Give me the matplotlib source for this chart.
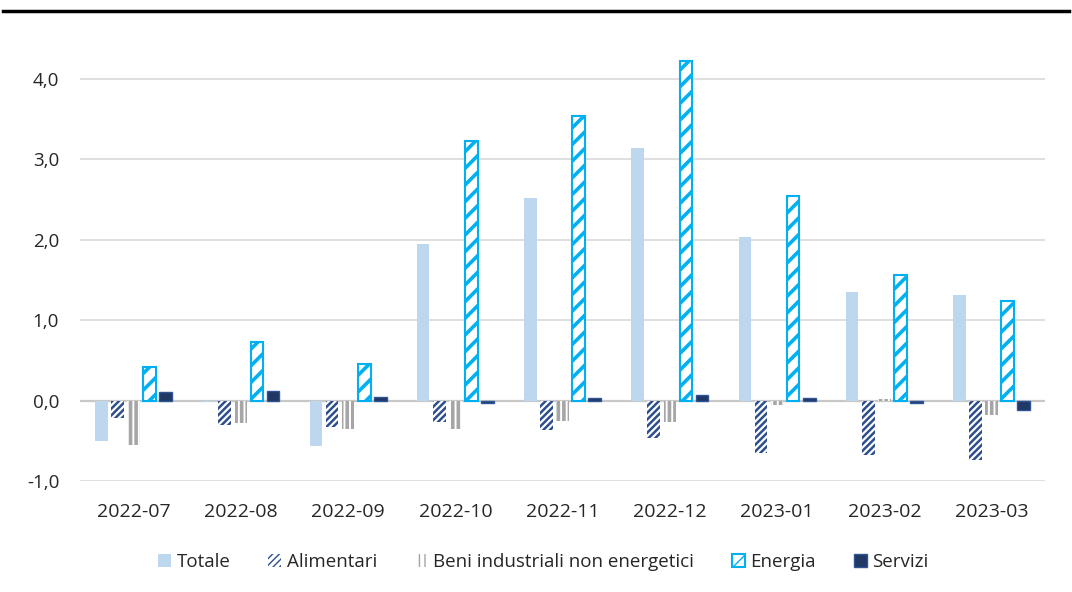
import numpy as np
import matplotlib.pyplot as plt
from matplotlib.lines import Line2D
from matplotlib.ticker import FuncFormatter

plt.rcParams['font.family'] = ['Open Sans', 'DejaVu Sans']

months = ['2022-07', '2022-08', '2022-09', '2022-10', '2022-11',
          '2022-12', '2023-01', '2023-02', '2023-03']
totale = [-0.50, -0.02, -0.57, 1.95, 2.52, 3.14, 2.03, 1.35, 1.31]
alimentari = [-0.22, -0.30, -0.33, -0.27, -0.37, -0.46, -0.65, -0.68, -0.74]
beni_industriali = [-0.55, -0.28, -0.35, -0.35, -0.25, -0.27, -0.05, 0.02, -0.18]
energia = [0.42, 0.73, 0.46, 3.22, 3.54, 4.22, 2.54, 1.56, 1.24]
servizi = [0.10, 0.12, 0.05, -0.03, 0.03, 0.07, 0.03, -0.03, -0.12]

# (label, values, hatch line width, bar style)
series = [
    ('Totale', totale, 1.0, dict(color='#BDD7EE', linewidth=0)),
    ('Alimentari', alimentari, 1.8,
     dict(facecolor='white', edgecolor='#2E4E8E', hatch='/////', linewidth=0)),
    ('Beni industriali non energetici', beni_industriali, 2.6,
     dict(facecolor='white', edgecolor='#A6A6A6', hatch='|||', linewidth=0)),
    ('Energia', energia, 2.6,
     dict(facecolor='white', edgecolor='#00B0F0', hatch='//', linewidth=1.5)),
    ('Servizi', servizi, 1.0,
     dict(facecolor='#1F3864', edgecolor='#2F5597', linewidth=1.0)),
]

fig = plt.figure(figsize=(10.72, 5.92), dpi=100)
ax = fig.add_axes([0.0746, 0.1875, 0.9004, 0.7475])

x = np.arange(len(months))
step = 0.15
width = 0.118
for i, (name, vals, hlw, style) in enumerate(series):
    with plt.rc_context({'hatch.linewidth': hlw}):
        ax.bar(x + (i - 2) * step, vals, width, label=name, zorder=3, **style)

ax.set_xlim(-0.5, len(months) - 0.5)
ax.set_ylim(-1.0, 4.5)
ax.set_yticks(np.arange(-1, 5, 1))
ax.yaxis.set_major_formatter(FuncFormatter(lambda v, _: f'{v:.1f}'.replace('.', ',')))
ax.set_xticks(x)
ax.set_xticklabels(months)

ax.grid(axis='y', color='#D9D9D9', linewidth=1.2, zorder=0)
ax.axhline(0, color='#C8C8C8', linewidth=1.6, zorder=2)
for s in ax.spines.values():
    s.set_visible(False)
ax.tick_params(length=0, colors='#262626')
ax.tick_params(axis='x', pad=16, labelsize=14)
ax.tick_params(axis='y', pad=15, labelsize=13.5)

ax.legend(loc='upper center', bbox_to_anchor=(0.48, -0.125), ncol=5,
          frameon=False, fontsize=13.5, handlelength=0.7, handleheight=0.7,
          handletextpad=0.3, columnspacing=2.0, labelcolor='#262626')

# rule across the top of the figure
fig.add_artist(Line2D([0.003, 0.997], [0.982, 0.982], color='black',
                      linewidth=2.5, transform=fig.transFigure))

fig.savefig('out.png', dpi=100, facecolor='white')
